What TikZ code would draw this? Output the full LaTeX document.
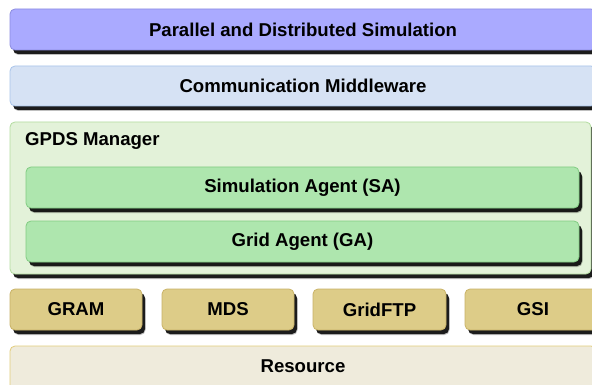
\documentclass[tikz,border=0pt]{standalone}
\usepackage{fontspec}
\setmainfont{Liberation Sans}
\usetikzlibrary{shadows}
\definecolor{topfill}{HTML}{AAAAFF}
\definecolor{topdraw}{HTML}{8C8CE0}
\definecolor{comfill}{HTML}{D6E2F4}
\definecolor{comdraw}{HTML}{A9C4EA}
\definecolor{mgrfill}{HTML}{E3F2D9}
\definecolor{mgrdraw}{HTML}{B3DDA0}
\definecolor{agfill}{HTML}{AEE6AE}
\definecolor{agdraw}{HTML}{82CC82}
\definecolor{glfill}{HTML}{DDCC88}
\definecolor{gldraw}{HTML}{C9B266}
\definecolor{resfill}{HTML}{EFEBDC}
\definecolor{resdraw}{HTML}{E2CC7A}
\tikzset{
  layer/.style={rounded corners=5pt, line width=0.8pt, inner sep=0pt,
    font=\fontsize{18.6}{22}\selectfont\bfseries, text=black},
  shad/.style={
    drop shadow={shadow xshift=3.5pt, shadow yshift=-5pt, fill=black, opacity=0.25},
    drop shadow={shadow xshift=3pt, shadow yshift=-4pt, fill=black, opacity=0.85}},
  lbl/.style={inner sep=0pt, font=\fontsize{18.6}{22}\selectfont\bfseries, text=black}
}
\begin{document}
\begin{tikzpicture}[x=1pt,y=-1pt]
\useasboundingbox (0,0) rectangle (592,385);
\fill[white] (0,0) rectangle (592,385);
\node[layer, shad, fill=topfill, draw=topdraw, minimum width=586pt, minimum height=41pt] (pds) at (303,29.5) {Parallel and Distributed Simulation};
\node[layer, shad, fill=comfill, draw=comdraw, minimum width=586pt, minimum height=40pt] (cm) at (303,86) {Communication Middleware};
\node[layer, shad, fill=mgrfill, draw=mgrdraw, minimum width=581pt, minimum height=152pt] (mgr) at (300.5,198) {};
\node[lbl, anchor=west] (mgrl) at (25,141) {GPDS Manager};
\node[layer, shad, fill=agfill, draw=agdraw, minimum width=553pt, minimum height=41pt] (sa) at (302.5,187.5) {Simulation Agent (SA)};
\node[layer, shad, fill=agfill, draw=agdraw, minimum width=553pt, minimum height=41pt] (ga) at (302.5,241.5) {Grid Agent (GA)};
\node[layer, shad, fill=glfill, draw=gldraw, minimum width=132pt, minimum height=41pt] (gram) at (76,309.5) {GRAM};
\node[layer, shad, fill=glfill, draw=gldraw, minimum width=132pt, minimum height=41pt] (mds) at (228,309.5) {MDS};
\node[layer, shad, fill=glfill, draw=gldraw, minimum width=133pt, minimum height=41pt] (ftp) at (379.5,309.5) {GridFTP};
\node[layer, shad, fill=glfill, draw=gldraw, minimum width=136pt, minimum height=41pt] (gsi) at (533,309.5) {GSI};
\node[layer, fill=resfill, draw=resdraw, minimum width=586pt, minimum height=48pt] (res) at (303,370) {};
\node[lbl] (resl) at (303,366) {Resource};
\end{tikzpicture}
\end{document}
